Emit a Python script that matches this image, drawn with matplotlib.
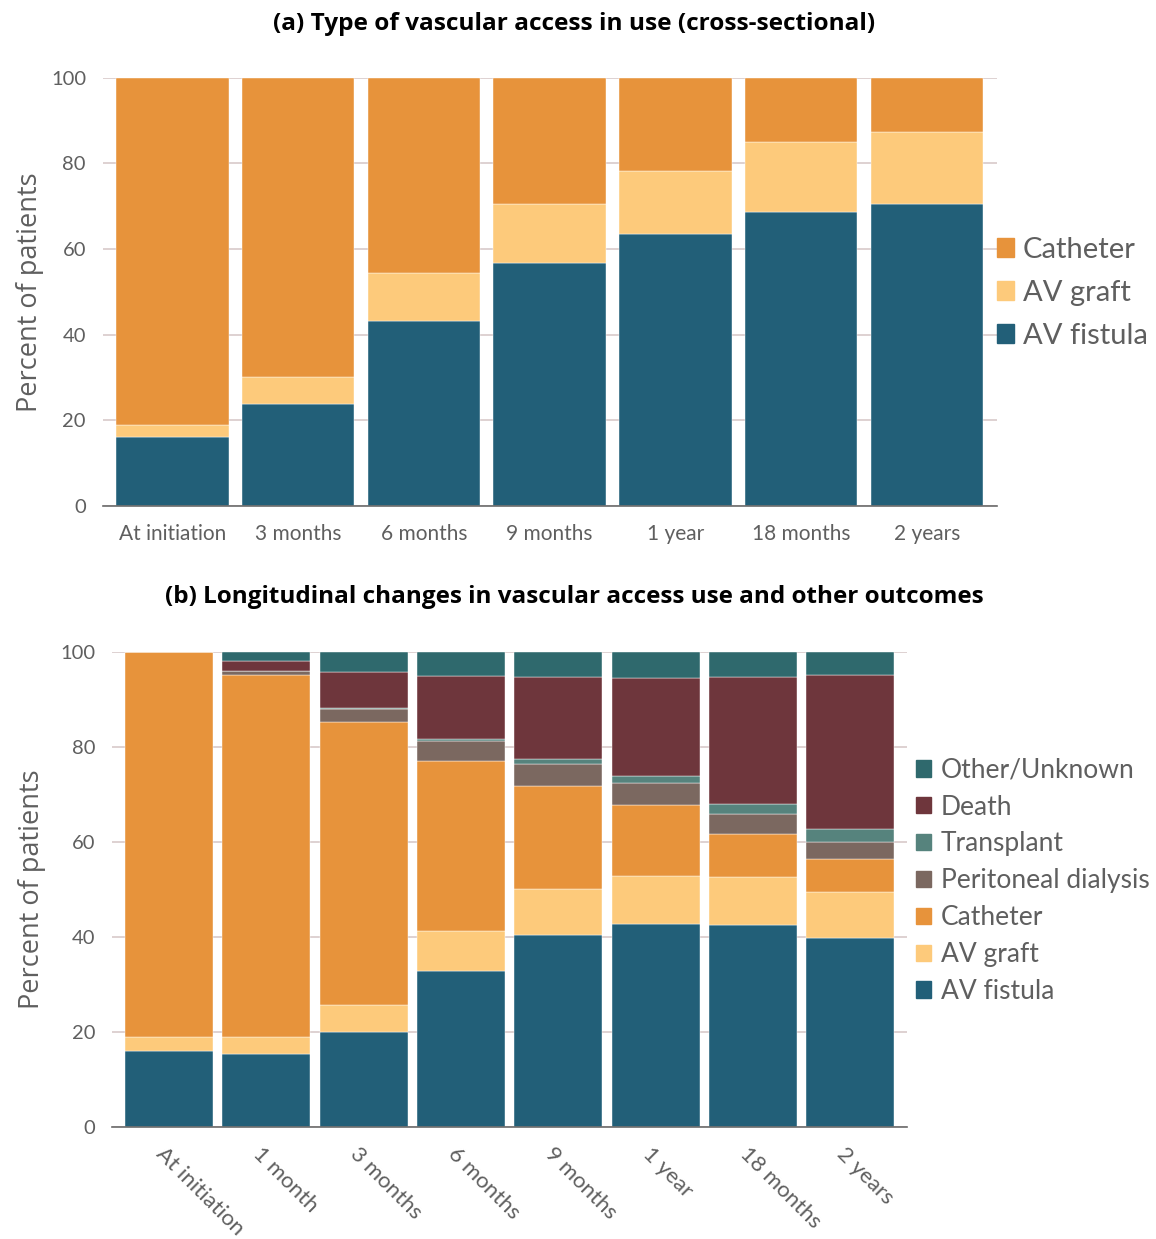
import numpy as np
import matplotlib
matplotlib.use("Agg")
from matplotlib import pyplot as plt
from matplotlib.patches import Patch

plt.rcParams['font.family'] = ['Lato', 'DejaVu Sans']

# (a) cross-sectional vascular access, percent of patients
times_a = ["At initiation", "3 months", "6 months", "9 months", "1 year", "18 months", "2 years"]
fistula_a = [16.1, 23.7, 43.3, 56.8, 63.4, 68.7, 70.6]
graft_a = [2.8, 6.5, 11.0, 13.6, 14.9, 16.2, 16.7]
catheter_a = [81.1, 69.8, 45.7, 29.6, 21.7, 15.1, 12.7]

# (b) longitudinal outcomes, percent of patients
times_b = ["At initiation", "1 month", "3 months", "6 months", "9 months", "1 year", "18 months", "2 years"]
fistula_b = [16.1, 15.3, 20.1, 32.9, 40.4, 42.8, 42.5, 39.7]
graft_b = [2.9, 3.6, 5.5, 8.3, 9.6, 10.1, 10.1, 9.7]
catheter_b = [81.0, 76.2, 59.5, 35.7, 21.8, 14.9, 9.1, 7.0]
pd_b = [0.0, 0.8, 2.8, 4.2, 4.5, 4.5, 4.2, 3.6]
transplant_b = [0.0, 0.1, 0.2, 0.5, 1.1, 1.5, 2.1, 2.8]
death_b = [0.0, 2.0, 7.6, 13.3, 17.2, 20.7, 26.7, 32.2]
other_b = [0.0, 2.0, 4.3, 5.1, 5.4, 5.5, 5.3, 5.0]

c_fistula = "#225F78"
c_graft = "#FDCA7B"
c_catheter = "#E7933B"
c_pd = "#7B6860"
c_transplant = "#56837D"
c_death = "#6E363C"
c_other = "#2F696D"

grid_c = "#D8C9C9"
text_c = "#5f5f5f"


def style_axes(ax, pad):
    ax.set_ylim(0, 100)
    ax.set_yticks(range(0, 101, 20))
    ax.yaxis.grid(True, color=grid_c, linewidth=1.2)
    ax.set_axisbelow(True)
    for s in ["left", "right", "top"]:
        ax.spines[s].set_visible(False)
    ax.spines["bottom"].set_color("#6b6b6b")
    ax.spines["bottom"].set_linewidth(1.2)
    ax.tick_params(length=0, colors=text_c, labelsize=14)
    ax.set_ylabel("Percent of patients", fontsize=19.5, color=text_c, labelpad=pad,
                  family=["Open Sans", "DejaVu Sans"])


def stack(ax, x, series, colors, width):
    bottom = np.zeros(len(x))
    for vals, col in zip(series, colors):
        ax.bar(x, vals, width, bottom=bottom, color=col, edgecolor="white", linewidth=0.3)
        bottom += np.array(vals)


fig = plt.figure(figsize=(11.56, 12.39), dpi=100)

# panel (a)
ax1 = fig.add_axes([0.0888, 0.5916, 0.7734, 0.3457])
xa = np.arange(len(times_a))
stack(ax1, xa, [fistula_a, graft_a, catheter_a], [c_fistula, c_graft, c_catheter], 0.895)
ax1.set_xlim(-0.555, len(times_a) - 0.445)
ax1.set_xticks(xa)
ax1.set_xticklabels(times_a)
style_axes(ax1, 5)
ax1.tick_params(axis="x", pad=13, labelsize=15)
ax1.tick_params(axis="y", pad=12, labelsize=14.5)
fig.text(0.497, 0.981, "(a) Type of vascular access in use (cross-sectional)",
         ha="center", va="center", fontsize=17.6, fontweight="bold", family=["Open Sans", "DejaVu Sans"])
h1 = [Patch(color=c) for c in [c_catheter, c_graft, c_fistula]]
ax1.legend(h1, ["Catheter", "AV graft", "AV fistula"], loc="center left", bbox_to_anchor=(1.0, 0.498),
           frameon=False, borderaxespad=0, borderpad=0, handlelength=0.6, handleheight=0.6,
           handletextpad=0.3, labelspacing=0.58, labelcolor=text_c, prop={"size": 21})

# panel (b)
ax2 = fig.add_axes([0.0966, 0.0902, 0.6877, 0.3839])
xb = np.arange(len(times_b))
stack(ax2, xb, [fistula_b, graft_b, catheter_b, pd_b, transplant_b, death_b, other_b],
      [c_fistula, c_graft, c_catheter, c_pd, c_transplant, c_death, c_other], 0.905)
ax2.set_xlim(-0.59, len(times_b) - 0.42)
ax2.set_xticks(xb - 0.03)
ax2.set_xticklabels(times_b, rotation=-45, ha="left", va="top", rotation_mode="anchor")
style_axes(ax2, 10)
ax2.tick_params(axis="x", pad=12, labelsize=16)
ax2.tick_params(axis="y", pad=12, labelsize=14.5)
fig.text(0.497, 0.518, "(b) Longitudinal changes in vascular access use and other outcomes",
         ha="center", va="center", fontsize=17.5, fontweight="bold", family=["Open Sans", "DejaVu Sans"])
h2 = [Patch(color=c) for c in [c_other, c_death, c_transplant, c_pd, c_catheter, c_graft, c_fistula]]
ax2.legend(h2, ["Other/Unknown", "Death", "Transplant", "Peritoneal dialysis", "Catheter", "AV graft", "AV fistula"],
           loc="center left", bbox_to_anchor=(1.012, 0.518), frameon=False, borderaxespad=0, borderpad=0,
           handlelength=0.58, handleheight=0.58, handletextpad=0.35, labelspacing=0.45,
           labelcolor=text_c, prop={"size": 19})

fig.savefig("out.png", dpi=100)
